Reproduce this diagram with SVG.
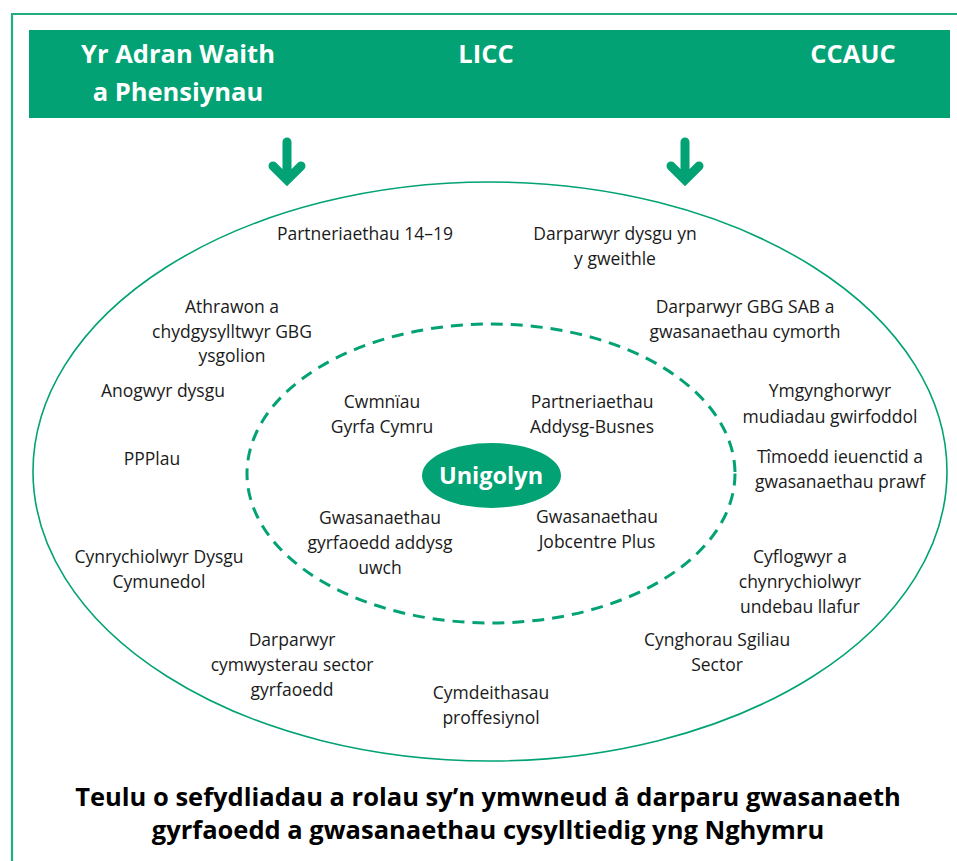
<svg xmlns="http://www.w3.org/2000/svg" width="957" height="861" viewBox="0 0 957 861">
<style>
.t{font-family:"Open Sans","Noto Sans","Liberation Sans",sans-serif;font-size:17.5px;fill:#1a1a1a;text-anchor:middle}
.h{font-family:"Open Sans","Noto Sans","Liberation Sans",sans-serif;font-size:25.5px;font-weight:bold;fill:#fff;text-anchor:middle}
.u{font-family:"Open Sans","Noto Sans","Liberation Sans",sans-serif;font-size:23.5px;font-weight:bold;fill:#fff;text-anchor:middle}
.c{font-family:"Open Sans","Noto Sans","Liberation Sans",sans-serif;font-size:25.5px;font-weight:bold;fill:#000;text-anchor:middle}
.arr{fill:none;stroke:#02a274;stroke-width:9;stroke-linecap:round;stroke-linejoin:miter}
</style>
<rect width="957" height="861" fill="#fff"/>
<path d="M12,861 V14 H957" fill="none" stroke="#1fae7c" stroke-width="2.2"/>
<g id="banner">
<rect x="29" y="30" width="921" height="88" fill="#02a274"/>
<text class="h" x="178" y="63">Yr Adran Waith</text>
<text class="h" x="178" y="101">a Phensiynau</text>
<text class="h" x="486" y="63">LICC</text>
<text class="h" x="853" y="63">CCAUC</text>
</g>
<g id="connectors">
<path class="arr" d="M287,142 V176 M273,166 L287,180 L301,166"/>
<path class="arr" d="M685,142 V176 M671,166 L685,180 L699,166"/>
</g>
<g id="outer">
<ellipse cx="490" cy="471.5" rx="457" ry="289.5" fill="none" stroke="#02a274" stroke-width="1.6"/>
</g>
<g id="inner">
<ellipse cx="491" cy="473.5" rx="244" ry="149.5" fill="none" stroke="#02a274" stroke-width="3" stroke-dasharray="12 8"/>
</g>
<g id="unigolyn">
<ellipse cx="491.5" cy="475.5" rx="69.5" ry="32.5" fill="#02a274"/>
<text class="u" x="491" y="484">Unigolyn</text>
</g>
<g id="n1"><text class="t" x="365" y="240">Partneriaethau 14–19</text></g>
<g id="n2"><text class="t" x="615" y="240">Darparwyr dysgu yn</text><text class="t" x="615" y="265">y gweithle</text></g>
<g id="n3"><text class="t" x="232" y="313">Athrawon a</text><text class="t" x="232" y="338">chydgysylltwyr GBG</text><text class="t" x="232" y="362">ysgolion</text></g>
<g id="n4"><text class="t" x="745" y="313">Darparwyr GBG SAB a</text><text class="t" x="745" y="338">gwasanaethau cymorth</text></g>
<g id="n5"><text class="t" x="163" y="397">Anogwyr dysgu</text></g>
<g id="n6"><text class="t" x="830" y="397">Ymgynghorwyr</text><text class="t" x="830" y="423">mudiadau gwirfoddol</text></g>
<g id="n7"><text class="t" x="382" y="408">Cwmnïau</text><text class="t" x="382" y="433">Gyrfa Cymru</text></g>
<g id="n8"><text class="t" x="592" y="408">Partneriaethau</text><text class="t" x="592" y="433">Addysg-Busnes</text></g>
<g id="n9"><text class="t" x="152" y="465">PPPlau</text></g>
<g id="n10"><text class="t" x="840" y="463">Tîmoedd ieuenctid a</text><text class="t" x="840" y="488">gwasanaethau prawf</text></g>
<g id="n11"><text class="t" x="380" y="524">Gwasanaethau</text><text class="t" x="380" y="549">gyrfaoedd addysg</text><text class="t" x="380" y="574">uwch</text></g>
<g id="n12"><text class="t" x="597" y="523">Gwasanaethau</text><text class="t" x="597" y="548">Jobcentre Plus</text></g>
<g id="n13"><text class="t" x="159" y="563">Cynrychiolwyr Dysgu</text><text class="t" x="159" y="588">Cymunedol</text></g>
<g id="n14"><text class="t" x="800" y="563">Cyflogwyr a</text><text class="t" x="800" y="588">chynrychiolwyr</text><text class="t" x="800" y="613">undebau llafur</text></g>
<g id="n15"><text class="t" x="717" y="646">Cynghorau Sgiliau</text><text class="t" x="717" y="671">Sector</text></g>
<g id="n16"><text class="t" x="292" y="646">Darparwyr</text><text class="t" x="292" y="671">cymwysterau sector</text><text class="t" x="292" y="696">gyrfaoedd</text></g>
<g id="n17"><text class="t" x="491" y="699">Cymdeithasau</text><text class="t" x="491" y="724">proffesiynol</text></g>
<g id="caption">
<text class="c" x="488" y="806">Teulu o sefydliadau a rolau sy’n ymwneud â darparu gwasanaeth</text>
<text class="c" x="488" y="839">gyrfaoedd a gwasanaethau cysylltiedig yng Nghymru</text>
</g>
</svg>
